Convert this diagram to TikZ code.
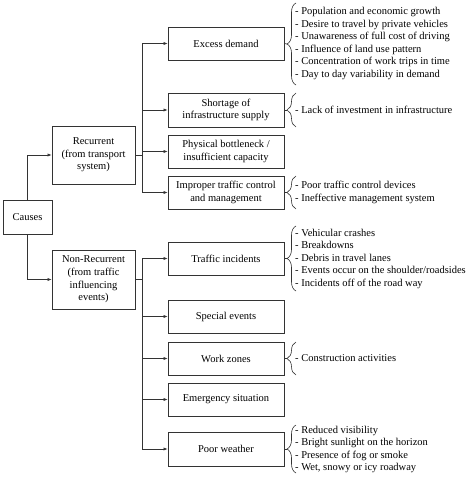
\documentclass[tikz,border=0pt]{standalone}
\usepackage{fontspec}
\setmainfont{Liberation Serif}
\usetikzlibrary{arrows.meta,decorations.pathreplacing}
\definecolor{ln}{HTML}{333333}
\tikzset{
  box/.style={draw=ln, line width=0.8pt, rectangle, align=center, inner sep=1pt,
    font=\fontsize{10.5}{12.6}\selectfont, text=black},
  rbox/.style={box, minimum width=116pt},
  lst/.style={anchor=west, inner sep=0pt, align=left,
    font=\fontsize{10.5}{12.5}\selectfont, text=black},
  conn/.style={draw=ln, line width=0.6pt},
  arr/.style={conn, -{Latex[length=4pt,width=3.2pt]}},
  br/.style={draw=ln, line width=0.6pt, decorate, decoration={brace, amplitude=9pt}},
}
\begin{document}
\begin{tikzpicture}[x=1pt,y=-1pt]
\useasboundingbox (0,0) rectangle (474,482);
% left boxes
\node[box, minimum width=49pt, minimum height=34pt] (causes) at (27.5,217) {Causes};
\node[box, minimum width=83pt, minimum height=58pt] (rec) at (93.5,155) {Recurrent\\(from transport\\system)};
\node[box, minimum width=83pt, minimum height=59pt] (nonrec) at (93.5,279.5) {Non-Recurrent\\(from traffic\\influencing\\events)};
% right boxes
\node[rbox, minimum height=33pt] (excess) at (226,43.5) {Excess demand};
\node[rbox, minimum height=34pt] (shortage) at (226,110) {Shortage of\\infrastructure supply};
\node[rbox, minimum height=33pt] (physical) at (226,151.5) {Physical bottleneck /\\insufficient capacity};
\node[rbox, minimum height=33pt] (improper) at (226,192.5) {Improper traffic control\\and management};
\node[rbox, minimum height=33pt] (incidents) at (226,258.5) {Traffic incidents};
\node[rbox, minimum height=33pt] (special) at (226,316.5) {Special events};
\node[rbox, minimum height=33pt] (work) at (226,358.5) {Work zones};
\node[rbox, minimum height=33pt] (emergency) at (226,399.5) {Emergency situation};
\node[rbox, minimum height=34pt] (weather) at (226,449) {Poor weather};
% causes connectors
\draw[arr] (causes.north) |- (rec.west);
\draw[arr] (causes.south) |- (nonrec.west);
% recurrent branches
\coordinate (rj) at (142,155);
\draw[conn] (rec.east) -- (rj);
\draw[conn] (142,43.5) -- (142,192.5);
\foreach \n in {excess,shortage,physical,improper}
  \draw[arr] (142,0 |- \n.west) -- (\n.west);
% non-recurrent branches
\coordinate (nj) at (142,279.5);
\draw[conn] (nonrec.east) -- (nj);
\draw[conn] (142,258.5) -- (142,449);
\foreach \n in {incidents,special,work,emergency,weather}
  \draw[arr] (142,0 |- \n.west) -- (\n.west);
% lists
\node[lst] (l1) at (295,43.7) {- Population and economic growth\\- Desire to travel by private vehicles\\- Unawareness of full cost of driving\\- Influence of land use pattern\\- Concentration of work trips in time\\- Day to day variability in demand};
\node[lst] (l2) at (295,110) {- Lack of investment in infrastructure};
\node[lst] (l3) at (295,192.5) {- Poor traffic control devices\\- Ineffective management system};
\node[lst] (l4) at (295,258.5) {- Vehicular crashes\\- Breakdowns\\- Debris in travel lanes\\- Events occur on the shoulder/roadsides\\- Incidents off of the road way};
\node[lst] (l5) at (295,358.5) {- Construction activities};
\node[lst] (l6) at (295,449.5) {- Reduced visibility\\- Bright sunlight on the horizon\\- Presence of fog or smoke\\- Wet, snowy or icy roadway};
% braces
\newcommand{\mybrace}[4]{%
  \draw[br] (296,#3) -- (296,#2);
  \coordinate (#4) at (287,{(#2+#3)/2});
  \draw[conn] (#1.east) -- (#4);
}
\mybrace{excess}{3}{85}{t1}
\mybrace{shortage}{93}{127}{t2}
\mybrace{improper}{176}{209}{t3}
\mybrace{incidents}{226}{291}{t4}
\mybrace{work}{342}{375}{t5}
\mybrace{weather}{425}{473}{t6}
\end{tikzpicture}
\end{document}
